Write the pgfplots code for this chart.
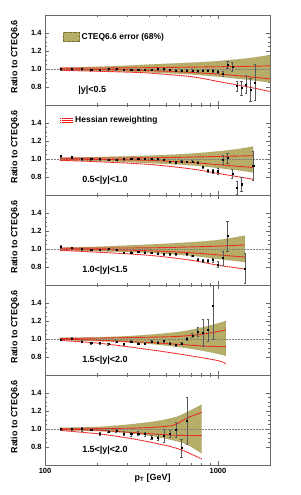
\documentclass[border=0pt]{standalone}
\usepackage{fontspec}
\setmainfont{Liberation Sans}
\usepackage{pgfplots}
\pgfplotsset{compat=1.18}
\usepgfplotslibrary{groupplots,fillbetween}
\usetikzlibrary{calc}
\definecolor{band}{RGB}{182,174,104}
\definecolor{bandedge}{RGB}{120,112,55}
\definecolor{frame}{RGB}{105,105,105}
\definecolor{hred}{RGB}{238,25,25}
\tikzset{plab/.style={anchor=west, font=\bfseries\fontsize{9}{10}\selectfont}}
\pgfplotsset{
 panel/.style={
  xmode=log, xmin=100, xmax=2000, ymin=0.6, ymax=1.6,
  xtick={100,1000}, xticklabels={100,1000},
  minor xtick={200,300,400,500,600,700,800,900,2000},
  ytick={0.8,1.0,1.2,1.4}, minor y tick num=3,
  yticklabel style={/pgf/number format/.cd,fixed,fixed zerofill,precision=1},
  /pgf/number format/assume math mode=true,
  tick label style={font=\bfseries\fontsize{7.5}{9}\selectfont},
  ylabel={Ratio to CTEQ6.6},
  ylabel style={font=\bfseries\fontsize{9}{10}\selectfont, at={(axis description cs:-0.133,0.535)}, anchor=center},
  xlabel style={font=\bfseries\fontsize{9}{10}\selectfont, at={(axis description cs:0.478,-0.145)}, anchor=center},
  axis line style={frame}, every tick/.style={frame},
  major tick length=4bp, minor tick length=2bp,
 },
 pts/.style={only marks, mark=square*, mark size=0.55bp, black, mark options={black},
   error bars/.cd, y dir=both, y explicit,
   error bar style={black!65, line width=0.4pt},
   error mark options={black!65, rotate=90, mark size=1.1bp}},
 redc/.style={hred, line width=0.9pt, smooth, dash pattern=on 1.6pt off 0.5pt},
 edge/.style={draw=none, smooth},
 bandfill/.style={fill=band, draw=bandedge, densely dotted, line width=0.3pt},
 oneline/.style={black!50, densely dotted, line width=0.5pt},
}
\begin{document}
\begin{tikzpicture}
\begin{groupplot}[group style={group size=1 by 5, vertical sep=0pt, xticklabels at=edge bottom, xlabels at=edge bottom},
  scale only axis, width=225bp, height=90bp, panel]
% ---------------- panel 1
\nextgroupplot[legend style={at={(axis description cs:0.067,0.755)}, anchor=west, draw=none, fill=none, font=\bfseries\fontsize{8.5}{10}\selectfont, legend cell align=left}]
\addlegendimage{legend image code/.code={\fill[band] (0bp,-4.5bp) rectangle (16bp,4.5bp); \draw[bandedge, densely dotted, line width=0.3pt] (0bp,-4.5bp) rectangle (16bp,4.5bp);}}
\addlegendentry{CTEQ6.6 error (68\%)}
\addplot[edge, name path=u1] coordinates {(122,1.015) (200,1.025) (300,1.038) (400,1.05) (700,1.07) (1000,1.088) (1500,1.12) (2000,1.155)};
\addplot[edge, name path=l1] coordinates {(122,0.985) (200,0.978) (400,0.962) (700,0.94) (1000,0.915) (1500,0.88) (2000,0.85)};
\addplot[bandfill] fill between[of=u1 and l1];
\addplot[oneline] coordinates {(100,1) (2000,1)};
\addplot[redc] coordinates {(122,1.01) (200,1.011) (300,1.013) (500,1.017) (1000,1.025) (1500,1.03) (2000,1.035)};
\addplot[redc] coordinates {(122,1.0) (200,0.996) (300,0.99) (500,0.975) (700,0.962) (1000,0.944) (1500,0.915) (2000,0.89)};
\addplot[redc] coordinates {(122,0.985) (200,0.975) (300,0.965) (400,0.955) (700,0.915) (1000,0.862) (1500,0.8) (2000,0.75)};
\addplot[pts] table[x index=0, y index=1, y error index=2, row sep=\\] {
123.5 1.00 0.010\\ 143 1.00 0.008\\ 163.5 1.00 0.008\\ 185 0.99 0.008\\ 208 0.99 0.008\\
232.5 1.00 0.008\\ 258.5 1.00 0.008\\ 286 0.99 0.008\\ 315 0.99 0.008\\ 346 0.99 0.008\\
378.5 0.995 0.008\\ 412.5 0.99 0.008\\ 449 1.00 0.008\\ 487.5 1.00 0.008\\ 527.5 0.99 0.008\\
570 0.985 0.008\\ 615 0.985 0.008\\ 662 0.985 0.008\\ 711.5 0.985 0.01\\ 763.5 0.98 0.01\\
818 0.985 0.012\\ 875.5 0.985 0.012\\ 936 0.98 0.015\\ 999.5 0.97 0.02\\ 1066.5 0.95 0.025\\
1136.5 1.05 0.04\\ 1210 1.03 0.05\\ 1287.5 0.81 0.06\\ 1368.5 0.79 0.08\\ 1453.5 0.83 0.1\\
1542.5 0.77 0.13\\ 1636 0.85 0.2\\
};
\node[plab] at (rel axis cs:0.133,0.16) {|y|<0.5};
% ---------------- panel 2
\nextgroupplot[legend style={at={(axis description cs:0.05,0.83)}, anchor=west, draw=none, fill=none, font=\bfseries\fontsize{8.5}{10}\selectfont, legend cell align=left}]
\addlegendimage{legend image code/.code={\foreach \yy in {-2.4bp,0bp,2.4bp}{\draw[hred, line width=0.8pt, dash pattern=on 1.6pt off 0.5pt] (0bp,\yy) -- (13bp,\yy);}}}
\addlegendentry{Hessian reweighting}
\addplot[edge, name path=u2] coordinates {(122,1.015) (200,1.022) (400,1.037) (700,1.06) (1000,1.085) (1300,1.11) (1600,1.14)};
\addplot[edge, name path=l2] coordinates {(122,0.985) (200,0.977) (400,0.955) (700,0.93) (1000,0.9) (1300,0.875) (1600,0.85)};
\addplot[bandfill] fill between[of=u2 and l2];
\addplot[oneline] coordinates {(100,1) (2000,1)};
\addplot[redc] coordinates {(122,1.01) (400,1.013) (1000,1.028) (1600,1.037)};
\addplot[redc] coordinates {(122,1.0) (200,0.995) (400,0.985) (700,0.962) (1000,0.937) (1600,0.905)};
\addplot[redc] coordinates {(122,0.985) (200,0.97) (400,0.94) (700,0.89) (1000,0.84) (1600,0.775)};
\addplot[pts] table[x index=0, y index=1, y error index=2, row sep=\\] {
123.5 1.035 0.012\\ 143 1.02 0.01\\ 163.5 1.0 0.008\\ 185 1.0 0.008\\ 208 1.0 0.008\\
232.5 0.993 0.008\\ 258.5 0.99 0.008\\ 286 1.0 0.008\\ 315 1.003 0.008\\ 346 1.003 0.008\\
378.5 1.003 0.008\\ 412.5 1.003 0.008\\ 449 1.0 0.008\\ 487.5 0.99 0.008\\ 527.5 0.97 0.008\\
570 0.965 0.008\\ 615 0.975 0.008\\ 662 0.97 0.01\\ 711.5 0.975 0.01\\ 763.5 0.96 0.012\\
818 0.91 0.015\\ 875.5 0.87 0.02\\ 936 0.865 0.025\\ 999.5 0.865 0.03\\ 1066.5 0.99 0.05\\
1136.5 1.01 0.06\\ 1210 0.84 0.05\\ 1287.5 0.68 0.07\\ 1368.5 0.72 0.08\\ 1600 0.925 0.16\\
};
\node[plab] at (rel axis cs:0.15,0.16) {0.5<|y|<1.0};
% ---------------- panel 3
\nextgroupplot
\addplot[edge, name path=u3] coordinates {(122,1.015) (200,1.025) (400,1.05) (700,1.075) (1000,1.1) (1430,1.148)};
\addplot[edge, name path=l3] coordinates {(122,0.985) (200,0.975) (400,0.958) (700,0.925) (1000,0.89) (1430,0.855)};
\addplot[bandfill] fill between[of=u3 and l3];
\addplot[oneline] coordinates {(100,1) (2000,1)};
\addplot[redc] coordinates {(122,1.01) (400,1.013) (1000,1.032) (1430,1.045)};
\addplot[redc] coordinates {(122,1.0) (200,0.995) (400,0.98) (700,0.958) (1000,0.935) (1430,0.91)};
\addplot[redc] coordinates {(122,0.985) (200,0.965) (400,0.93) (700,0.875) (1000,0.82) (1430,0.778)};
\addplot[pts] table[x index=0, y index=1, y error index=2, row sep=\\] {
123.5 1.026 0.012\\ 143 1.015 0.01\\ 163.5 1.0 0.008\\ 185 0.99 0.008\\ 208 0.99 0.008\\
232.5 1.0 0.008\\ 258.5 0.99 0.008\\ 286 0.96 0.008\\ 315 0.963 0.008\\ 346 0.97 0.008\\
378.5 0.963 0.008\\ 412.5 0.96 0.008\\ 449 0.952 0.008\\ 487.5 0.944 0.008\\ 527.5 0.944 0.008\\
570 0.944 0.008\\ 662 0.944 0.01\\ 711.5 0.926 0.01\\ 763.5 0.885 0.012\\ 818 0.87 0.015\\
875.5 0.87 0.02\\ 936 0.878 0.025\\ 999.5 0.83 0.035\\ 1066.5 0.9 0.08\\ 1136.5 1.144 0.17\\
1430 0.785 0.17\\
};
\node[plab] at (rel axis cs:0.15,0.16) {1.0<|y|<1.5};
% ---------------- panel 4
\nextgroupplot
\addplot[edge, name path=u4] coordinates {(122,1.015) (208,1.02) (355,1.04) (600,1.08) (860,1.14) (1110,1.2)};
\addplot[edge, name path=l4] coordinates {(122,0.985) (208,0.975) (355,0.955) (600,0.91) (860,0.862) (1110,0.815)};
\addplot[bandfill] fill between[of=u4 and l4];
\addplot[oneline] coordinates {(100,1) (2000,1)};
\addplot[redc] coordinates {(122,1.005) (355,1.018) (600,1.03) (860,1.06) (1110,1.1)};
\addplot[redc] coordinates {(122,1.0) (208,0.985) (355,0.966) (600,0.94) (860,0.92) (1110,0.915)};
\addplot[redc] coordinates {(122,0.985) (208,0.952) (355,0.896) (600,0.833) (1000,0.76) (1110,0.722)};
\addplot[pts] table[x index=0, y index=1, y error index=2, row sep=\\] {
123.5 0.993 0.01\\ 143 1.007 0.01\\ 163.5 0.974 0.01\\ 185 0.956 0.01\\ 208 0.956 0.01\\
232.5 0.944 0.01\\ 258.5 0.974 0.01\\ 286 0.944 0.01\\ 315 0.974 0.01\\ 346 0.952 0.01\\
378.5 0.952 0.01\\ 412.5 0.974 0.01\\ 449 0.963 0.01\\ 487.5 0.98 0.012\\ 527.5 0.952 0.012\\
570 0.933 0.012\\ 615 0.95 0.012\\ 662 1.0 0.015\\ 711.5 1.04 0.02\\ 763.5 1.08 0.05\\
818 1.07 0.15\\ 875.5 1.1 0.12\\ 936 1.37 0.37\\
};
\node[plab] at (rel axis cs:0.15,0.16) {1.5<|y|<2.0};
% ---------------- panel 5
\nextgroupplot[xlabel={p\textsubscript{T} [GeV]}]
\addplot[edge, name path=u5] coordinates {(122,1.015) (208,1.025) (324,1.055) (450,1.09) (565,1.13) (660,1.185) (805,1.27)};
\addplot[edge, name path=l5] coordinates {(122,0.985) (208,0.975) (324,0.95) (450,0.91) (565,0.87) (660,0.83) (805,0.73)};
\addplot[bandfill] fill between[of=u5 and l5];
\addplot[oneline] coordinates {(100,1) (2000,1)};
\addplot[redc] coordinates {(122,1.0) (324,1.01) (506,1.03) (576,1.056) (660,1.12) (805,1.185)};
\addplot[redc] coordinates {(122,1.0) (208,0.985) (324,0.96) (506,0.935) (576,0.93) (805,0.926)};
\addplot[redc] coordinates {(122,0.985) (208,0.944) (324,0.89) (506,0.815) (630,0.76) (805,0.667)};
\addplot[pts] table[x index=0, y index=1, y error index=2, row sep=\\] {
123.5 1.0 0.01\\ 143 1.0 0.01\\ 163.5 1.0 0.02\\ 185 0.993 0.01\\ 208 0.944 0.015\\
232.5 0.974 0.015\\ 258.5 0.98 0.015\\ 286 0.952 0.02\\ 315 0.944 0.02\\ 346 0.952 0.02\\
378.5 0.944 0.025\\ 412.5 0.907 0.025\\ 449 0.907 0.03\\ 487.5 0.926 0.07\\ 527.5 0.944 0.04\\
570 0.993 0.08\\ 615 0.79 0.1\\ 662 1.09 0.26\\
};
\node[plab] at (rel axis cs:0.15,0.16) {1.5<|y|<2.0};
\end{groupplot}
\pgfresetboundingbox
\path ($(group c1r1.north west)+(-45bp,15bp)$) rectangle ($(group c1r1.north west)+(256bp,-480bp)$);
\end{tikzpicture}
\end{document}
